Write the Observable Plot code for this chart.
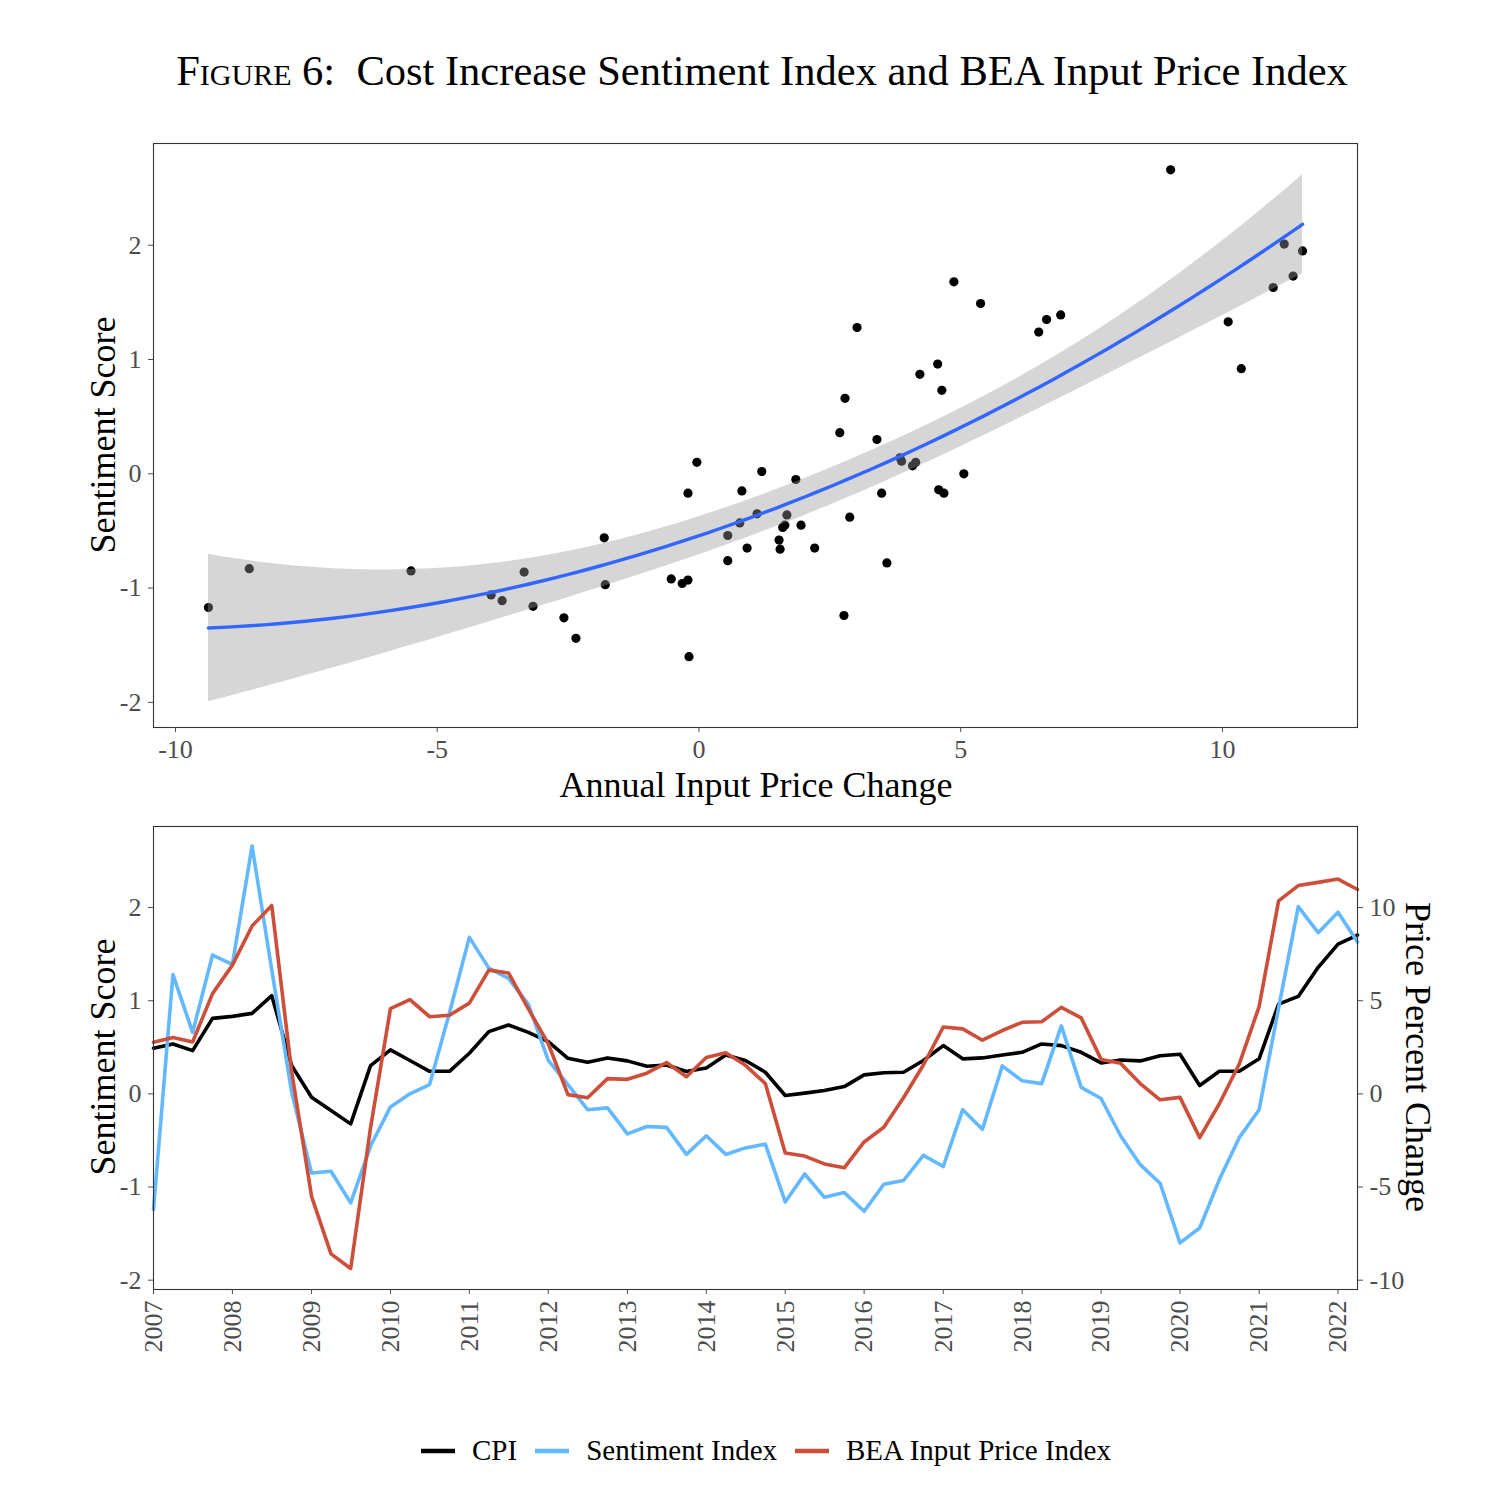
<!DOCTYPE html>
<html><head><meta charset="utf-8">
<script src="https://cdn.jsdelivr.net/npm/d3@7"></script>
<script src="https://cdn.jsdelivr.net/npm/@observablehq/plot@0.6"></script>
<style>
body{margin:0;background:#fff;}
#root{position:relative;width:1494px;height:1494px;font-family:"Liberation Serif",serif;color:#000;overflow:hidden;background:#fff;}
.abs{position:absolute;white-space:nowrap;line-height:1;}
.title{left:0;width:1524px;text-align:center;font-size:42.5px;}
.axt{font-size:36px;transform:translate(-50%,-50%);}
.rotl{font-size:36px;transform:translate(-50%,-50%) rotate(-90deg);}
.rotr{font-size:36px;transform:translate(-50%,-50%) rotate(90deg);}
.legend{left:0;width:1532px;top:1436px;display:flex;justify-content:center;align-items:center;font-size:29px;}
.legend .item{display:flex;align-items:center;margin:0 9px;}
.legend svg{margin-right:17px;}
#root > svg{position:absolute;left:0;}
</style></head><body><div id="root"></div>
<script>
// ---- data (quarterly, 2007Q1 .. 2022Q2) ----
const bea = [2.77, 3.02, 2.79, 5.38, 6.91, 9.01, 10.11, 1.20, -5.50, -8.59, -9.37, -1.81, 4.58, 5.06, 4.14, 4.22,
  4.87, 6.64, 6.49, 4.56, 2.69, -0.04, -0.21, 0.82, 0.78, 1.11, 1.68, 0.92, 1.95, 2.21, 1.53, 0.55,
  -3.17, -3.34, -3.76, -3.97, -2.58, -1.79, -0.21, 1.55, 3.59, 3.49, 2.88, 3.40, 3.84, 3.87, 4.64, 4.08,
  1.85, 1.64, 0.55, -0.32, -0.19, -2.35, -0.53, 1.60, 4.68, 10.36, 11.18, 11.35, 11.53, 10.97];
const sentiment = [-1.24, 1.28, 0.66, 1.49, 1.39, 2.66, 1.33, 0.02, -0.85, -0.83, -1.17, -0.56, -0.14, 0.00, 0.10, 0.87,
  1.68, 1.35, 1.24, 0.96, 0.36, 0.10, -0.17, -0.15, -0.43, -0.35, -0.36, -0.65, -0.45, -0.65, -0.58, -0.54,
  -1.16, -0.86, -1.11, -1.06, -1.26, -0.97, -0.93, -0.66, -0.78, -0.17, -0.38, 0.30, 0.14, 0.11, 0.73, 0.07,
  -0.05, -0.45, -0.76, -0.96, -1.60, -1.44, -0.92, -0.47, -0.17, 0.92, 2.01, 1.73, 1.95, 1.63];
const cpi = [2.45, 2.68, 2.32, 4.05, 4.16, 4.32, 5.27, 1.52, -0.18, -0.89, -1.61, 1.52, 2.36, 1.79, 1.21, 1.21,
  2.18, 3.34, 3.70, 3.30, 2.80, 1.91, 1.70, 1.93, 1.77, 1.48, 1.55, 1.20, 1.39, 2.09, 1.79, 1.16,
  -0.09, 0.04, 0.18, 0.39, 1.02, 1.13, 1.16, 1.79, 2.59, 1.88, 1.93, 2.09, 2.23, 2.68, 2.59, 2.23,
  1.66, 1.82, 1.77, 2.05, 2.13, 0.45, 1.21, 1.21, 1.88, 4.82, 5.23, 6.79, 8.04, 8.52];
const quarters = d3.utcMonth.every(3).range(new Date(Date.UTC(2007,0,1)), new Date(Date.UTC(2022,6,1)));
const yearTicks = d3.utcYear.range(new Date(Date.UTC(2007,0,1)), new Date(Date.UTC(2022,0,2)));
const scoreTicks = [-2, -1, 0, 1, 2];
const xTicksTop = [-10, -5, 0, 5, 10];
const priceScale = 5; // right axis: price % change = 5 x sentiment score axis

const seriesNames = ["CPI", "Sentiment Index", "BEA Input Price Index"];
const seriesColors = ["#000000", "#63B8FF", "#CD4F39"];

// ---- quadratic regression with 95% CI ----
function inv3(m){const [a,b,c]=m[0],[d,e,f]=m[1],[g,h,i]=m[2];
  const A=e*i-f*h,B=-(d*i-f*g),C=d*h-e*g;const det=a*A+b*B+c*C;
  return [[A/det,-(b*i-c*h)/det,(b*f-c*e)/det],[B/det,(a*i-c*g)/det,-(a*f-c*d)/det],[C/det,-(a*h-b*g)/det,(a*e-b*d)/det]];}
function quadFit(xs, ys, t, nGrid){
  const n=xs.length,S=[[0,0,0],[0,0,0],[0,0,0]],bv=[0,0,0];
  for(let i=0;i<n;i++){const r=[1,xs[i],xs[i]*xs[i]];for(let j=0;j<3;j++){bv[j]+=r[j]*ys[i];for(let k=0;k<3;k++)S[j][k]+=r[j]*r[k];}}
  const inv=inv3(S);const beta=[0,1,2].map(j=>inv[j][0]*bv[0]+inv[j][1]*bv[1]+inv[j][2]*bv[2]);
  const f=x=>beta[0]+beta[1]*x+beta[2]*x*x;
  let rss=0;for(let i=0;i<n;i++)rss+=(ys[i]-f(xs[i]))**2;const s2=rss/(n-3);
  const [x0,x1]=d3.extent(xs);
  return d3.range(nGrid).map(k=>{const x=x0+(x1-x0)*k/(nGrid-1);const r=[1,x,x*x];let v=0;
    for(let j=0;j<3;j++)for(let l=0;l<3;l++)v+=r[j]*inv[j][l]*r[l];const se=Math.sqrt(s2*v);const y=f(x);
    return {x,fit:y,lo:y-t*se,hi:y+t*se};});
}
const scatter = bea.map((x,i)=>({x, y: sentiment[i]}));
const fit = quadFit(bea, sentiment, 2.001, 80);

const root = document.getElementById("root");
const font = {fontFamily:"Liberation Serif, serif", background:"transparent", overflow:"visible"};

// ---- top panel ----
const topChart = Plot.plot({
  width:1494, height:690, marginLeft:153, marginRight:137, marginTop:23, marginBottom:83,
  style:font,
  x:{domain:[-10.42,12.58]},
  y:{domain:[-2.22,2.89]},
  marks:[
    Plot.dot(scatter,{x:"x",y:"y",r:4.6,fill:"#000",stroke:"none"}),
    Plot.areaY(fit,{x:"x",y1:"lo",y2:"hi",fill:"#999999",fillOpacity:0.4}),
    Plot.line(fit,{x:"x",y:"fit",stroke:"#3366FF",strokeWidth:3.4}),
    Plot.frame({stroke:"#333",strokeWidth:1.1}),
    Plot.axisX({ticks:xTicksTop,tickFormat:d=>String(d),tickSize:5,tickPadding:7,fontSize:26,color:"#4D4D4D",label:null}),
    Plot.axisY({ticks:scoreTicks,tickFormat:d=>String(d),tickSize:5,tickPadding:7,fontSize:26,color:"#4D4D4D",label:null})
  ]
});
topChart.style.top="120px";
root.appendChild(topChart);

// ---- bottom panel ----
const rows = quarters.map((d,i)=>({date:d,cpi:cpi[i]/priceScale,sent:sentiment[i],bea:bea[i]/priceScale}));
const bottomChart = Plot.plot({
  width:1494, height:600, marginLeft:153, marginRight:137, marginTop:16, marginBottom:121,
  style:font,
  x:{type:"utc",domain:[quarters[0],quarters[quarters.length-1]]},
  y:{domain:[-2.10,2.87]},
  marks:[
    Plot.line(rows,{x:"date",y:"cpi",stroke:seriesColors[0],strokeWidth:3.6}),
    Plot.line(rows,{x:"date",y:"sent",stroke:seriesColors[1],strokeWidth:3.6}),
    Plot.line(rows,{x:"date",y:"bea",stroke:seriesColors[2],strokeWidth:3.6}),
    Plot.frame({stroke:"#333",strokeWidth:1.1}),
    Plot.axisX({ticks:yearTicks,tickFormat:d3.utcFormat("%Y"),tickRotate:-90,tickSize:5,tickPadding:6,fontSize:26,color:"#4D4D4D",label:null}),
    Plot.axisY({ticks:scoreTicks,tickFormat:d=>String(d),tickSize:5,tickPadding:7,fontSize:26,color:"#4D4D4D",label:null}),
    Plot.axisY({anchor:"right",ticks:scoreTicks,tickFormat:d=>String(d*priceScale),tickSize:5,tickPadding:7,fontSize:26,color:"#4D4D4D",label:null})
  ]
});
bottomChart.style.top="810px";
root.appendChild(bottomChart);

// ---- texts ----
function addText(cls, html, left, topPx){const d=document.createElement("div");d.className="abs "+cls;d.innerHTML=html;
  if(left!==null)d.style.left=left+"px";d.style.top=topPx+"px";root.appendChild(d);return d;}
addText("title",'<span style="font-variant:small-caps">Figure</span> 6:&nbsp; Cost Increase Sentiment Index and BEA Input Price Index',null,50);
addText("axt","Annual Input Price Change",756,785);
addText("rotl","Sentiment Score",103,435);
addText("rotl","Sentiment Score",103,1057);
addText("rotr","Price Percent Change",1418,1057);

// ---- legend ----
const leg=document.createElement("div");leg.className="abs legend";
seriesNames.forEach((name,i)=>{const it=document.createElement("div");it.className="item";
  it.innerHTML=`<svg width="34" height="10"><line x1="0" x2="34" y1="5" y2="5" stroke="${seriesColors[i]}" stroke-width="4.5"/></svg><span>${name}</span>`;
  leg.appendChild(it);});
root.appendChild(leg);
</script></body></html>
